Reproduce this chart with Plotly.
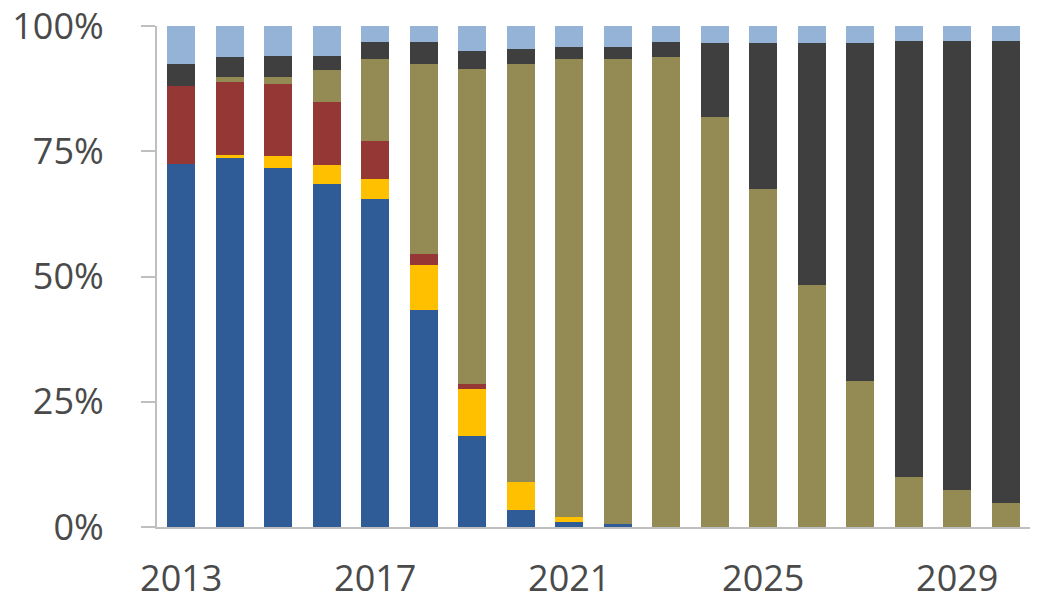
import plotly.graph_objects as go

# Years on the category axis
years = [str(y) for y in range(2013, 2031)]
tick_years = ["2013", "2017", "2021", "2025", "2029"]
y_ticks = [0, 25, 50, 75, 100]

# Share of each series per year (%), stacked bottom to top
blue = [72.5, 73.7, 71.7, 68.4, 65.4, 43.3, 18.2, 3.4, 1.0, 0.6, 0, 0, 0, 0, 0, 0, 0, 0]
yellow = [0, 0.6, 2.3, 3.9, 4.0, 8.9, 9.3, 5.6, 1.0, 0, 0, 0, 0, 0, 0, 0, 0, 0]
red = [15.5, 14.5, 14.5, 12.6, 7.6, 2.3, 1.1, 0, 0, 0, 0, 0, 0, 0, 0, 0, 0, 0]
olive = [0, 1.0, 1.3, 6.3, 16.5, 38.0, 62.9, 83.5, 91.5, 92.9, 93.8, 81.9, 67.4, 48.3, 29.1, 10.0, 7.3, 4.8]
dark = [4.5, 4.0, 4.3, 2.9, 3.3, 4.3, 3.6, 2.9, 2.3, 2.3, 3.0, 14.8, 29.3, 48.3, 67.5, 87.1, 89.8, 92.3]
light_blue = [7.5, 6.2, 5.9, 5.9, 3.2, 3.2, 4.9, 4.6, 4.2, 4.2, 3.2, 3.3, 3.3, 3.4, 3.4, 2.9, 2.9, 2.9]

series = [
    ("blue", blue, "#2F5C97"),
    ("yellow", yellow, "#FFC000"),
    ("red", red, "#953735"),
    ("olive", olive, "#948A54"),
    ("dark", dark, "#3F3F3F"),
    ("light blue", light_blue, "#95B3D7"),
]

fig = go.Figure()
for name, vals, color in series:
    fig.add_trace(go.Bar(
        x=years, y=vals, name=name,
        marker=dict(color=color, line=dict(width=0)),
    ))

font = dict(family="Open Sans", size=36, color="#4A4A4A")

fig.update_layout(
    barmode="stack",
    bargap=0.43,
    width=1038, height=606,
    margin=dict(l=157, r=8, t=26, b=79, autoexpand=False),
    paper_bgcolor="white",
    plot_bgcolor="white",
    showlegend=False,
    font=font,
)

fig.update_xaxes(
    type="category",
    tickmode="array",
    tickvals=tick_years,
    ticktext=tick_years,
    showgrid=False,
    showline=True,
    linecolor="#BFBFBF",
    linewidth=2,
    ticks="",
    ticklabelstandoff=19,
    ticklabeloverflow="allow",
    tickfont=font,
    automargin=False,
)

fig.update_yaxes(
    range=[0, 100],
    tickmode="array",
    tickvals=y_ticks,
    ticktext=[f"{v}%" for v in y_ticks],
    showgrid=False,
    showline=True,
    linecolor="#BFBFBF",
    linewidth=2,
    ticks="outside",
    ticklen=14,
    tickwidth=2,
    tickcolor="#BFBFBF",
    ticklabelstandoff=30,
    ticklabeloverflow="allow",
    tickfont=font,
    zeroline=False,
    automargin=False,
)

fig.write_html("out.html")
